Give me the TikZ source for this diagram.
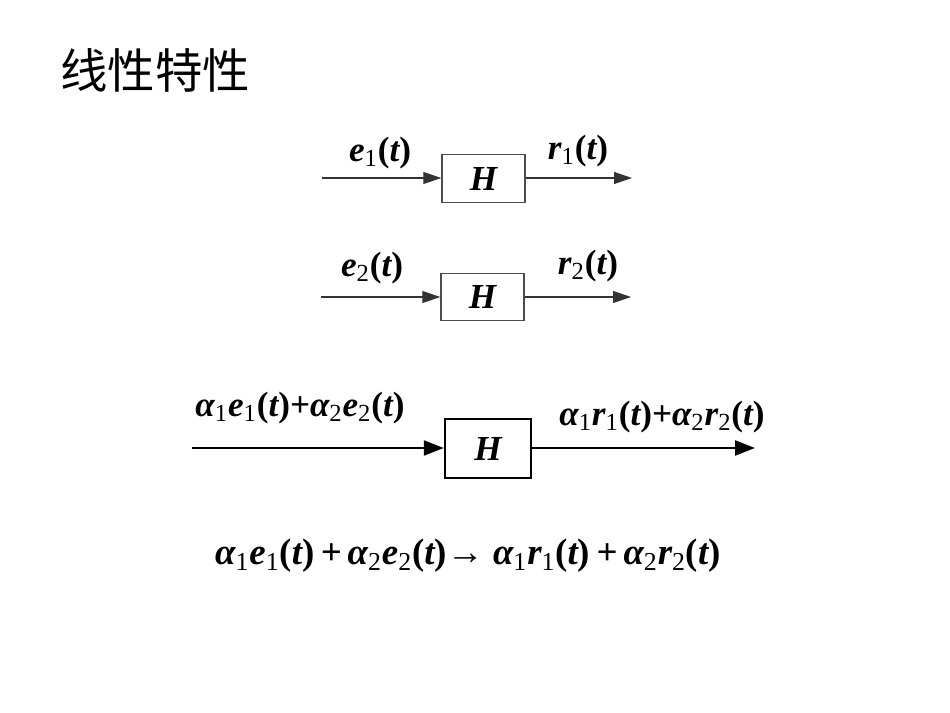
\documentclass[tikz,border=0pt]{standalone}
\usepackage{fontspec}
\setmainfont{Liberation Serif}
\newfontfamily\cjk{Noto Sans CJK SC}
\usepackage{tikz}
\usetikzlibrary{arrows.meta}
\newcommand{\lo}[1]{\textsubscript{\upshape\mdseries #1}}
\newcommand{\ofT}{{\upshape(}t{\upshape)}}

\begin{document}
\begin{tikzpicture}[x=0.02cm, y=-0.02cm,
    sys/.style={rectangle, draw=black!70, line width=0.8pt, minimum width=1.66cm,
                minimum height=0.95cm, font=\fontsize{20}{20}\selectfont\bfseries\itshape},
    signal/.style={-{Triangle[length=3.6mm,width=2.4mm]}, draw=black!80, line width=0.6pt},
    lbl/.style={font=\fontsize{20}{22}\selectfont\bfseries\itshape, inner sep=0pt}
]
    \useasboundingbox (0,0) rectangle (950,713);
    \node[font=\cjk\fontsize{27}{27}\selectfont] (title) at (155,70) {线性特性};

    % first system
    \node[sys] (h1) at (483.5,178.5) {H};
    \coordinate (in1) at (322,178);
    \coordinate (out1) at (632,178);
    \draw[signal] (in1) -- (h1.west |- in1);
    \draw[signal] (h1.east |- out1) -- (out1);
    \node[lbl] (e1) at (380,153) {e\lo{1}\ofT};
    \node[lbl] (r1) at (578,151) {r\lo{1}\ofT};

    % second system
    \node[sys] (h2) at (482.5,297) {H};
    \coordinate (in2) at (321,297);
    \coordinate (out2) at (631,297);
    \draw[signal] (in2) -- (h2.west |- in2);
    \draw[signal] (h2.east |- out2) -- (out2);
    \node[lbl] (e2) at (372,268) {e\lo{2}\ofT};
    \node[lbl] (r2) at (588,266) {r\lo{2}\ofT};

    % superposition
    \node[sys, draw=black, line width=1.4pt, minimum width=1.72cm, minimum height=1.18cm] (h3) at (488,448.5) {H};
    \coordinate (in3) at (192,448);
    \coordinate (out3) at (755,448);
    \draw[signal, draw=black, line width=1.3pt, -{Triangle[length=4mm,width=3mm]}] (in3) -- (h3.west |- in3);
    \draw[signal, draw=black, line width=1.3pt, -{Triangle[length=4mm,width=3mm]}] (h3.east |- out3) -- (out3);
    \node[lbl] (e3) at (300,408) {α\lo{1}e\lo{1}\ofT+α\lo{2}e\lo{2}\ofT};
    \node[lbl] (r3) at (662,417) {α\lo{1}r\lo{1}\ofT+α\lo{2}r\lo{2}\ofT};

    \node[lbl, font=\fontsize{21}{24}\selectfont\bfseries\itshape] (eq) at (468,556)
        {α\lo{1}e\lo{1}\ofT\,+\,α\lo{2}e\lo{2}\ofT\textrightarrow\ α\lo{1}r\lo{1}\ofT\,+\,α\lo{2}r\lo{2}\ofT};
\end{tikzpicture}
\end{document}
